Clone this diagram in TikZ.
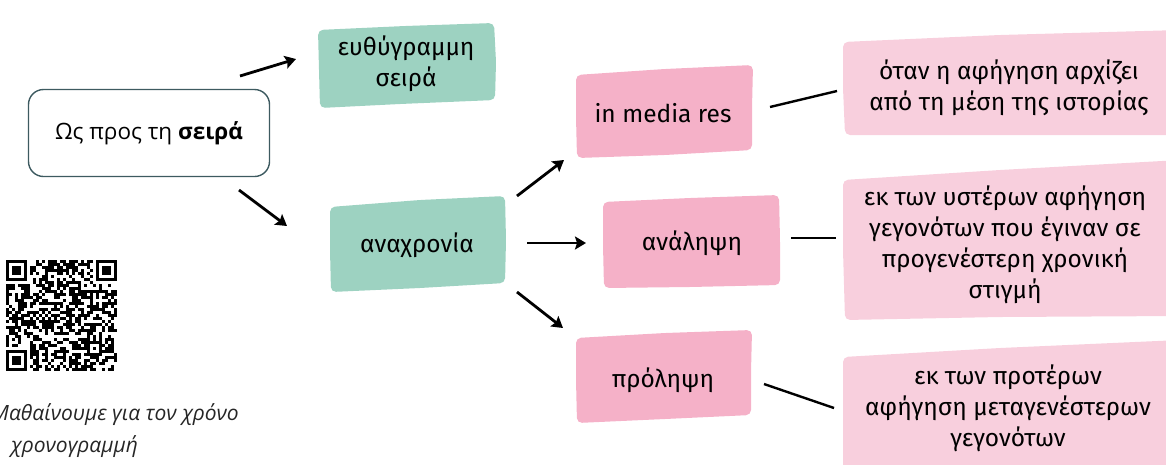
\documentclass[tikz,border=0pt]{standalone}
\usepackage{fontspec}
\setmainfont{Fira Sans}
\newfontfamily\startfont{Open Sans}
\usetikzlibrary{arrows.meta,calc}
\definecolor{grn}{HTML}{9DD2C1}
\definecolor{pnk}{HTML}{F5B1C8}
\definecolor{lpk}{HTML}{F8CFDD}
\definecolor{slate}{HTML}{3D5A60}
\begin{document}
\begin{tikzpicture}[x=1pt,y=-1pt,
  boxtxt/.style={align=center,font=\fontsize{24.5}{31}\selectfont,inner sep=0pt,text=black},
  captxt/.style={inner sep=0pt,font=\startfont\itshape\fontsize{21}{24}\selectfont,text=black!85},
  arr/.style={line width=2.8pt,-{Stealth[length=11pt,width=13pt,inset=2pt]}},
  link/.style={line width=2.4pt},
  blob/.style={rounded corners=5pt}]
\useasboundingbox (0,0) rectangle (1166,464);
\clip (0,0) rectangle (1166,464);

% ---- coloured brush boxes ----
\fill[grn,blob] (318,30) -- (405,26) -- (494,23) -- (496,62) -- (495,100) -- (400,104) -- (320,108) -- (319,70) -- cycle;
\fill[grn,blob] (330,207) -- (420,200) -- (505,196) -- (506,240) -- (505,283) -- (420,288) -- (331,292) -- (330,250) -- cycle;
\fill[pnk,blob] (576,75) -- (665,69) -- (753,65) -- (752,108) -- (752,150) -- (665,155) -- (577,158) -- (576,117) -- cycle;
\fill[pnk,blob] (603,202) -- (690,198) -- (779,195) -- (780,240) -- (780,285) -- (690,287) -- (604,288) -- (603,245) -- cycle;
\fill[pnk,blob] (576,338) -- (665,333) -- (752,330) -- (751,372) -- (751,415) -- (665,419) -- (577,423) -- (576,380) -- cycle;
\fill[lpk,blob] (843,42) -- (1000,35) -- (1180,30) -- (1180,135) -- (1000,135) -- (845,135) -- (843,88) -- cycle;
\fill[lpk,blob] (843,180) -- (1000,170) -- (1180,160) -- (1180,316) -- (1000,317) -- (845,320) -- (843,250) -- cycle;
\fill[lpk,blob] (843,357) -- (1000,348) -- (1180,340) -- (1180,470) -- (843,470) -- (843,410) -- cycle;

% ---- nodes ----
\node[draw=slate,line width=1.4pt,rounded corners=15pt,minimum width=241pt,minimum height=87pt,
      font=\startfont\fontsize{22.5}{26}\selectfont,inner sep=0pt] (start) at (149,133) {Ως προς τη \textbf{σειρά}};
\node[boxtxt] (lin) at (406,64) {ευθύγραμμη\\σειρά};
\node[boxtxt] (anach) at (417,245) {αναχρονία};
\node[boxtxt] (imr) at (663,113) {in media res};
\node[boxtxt] (anal) at (692,243) {ανάληψη};
\node[boxtxt] (prol) at (663,380) {πρόληψη};
\node[boxtxt] (d1) at (1009,88) {όταν η αφήγηση αρχίζει\\από τη μέση της ιστορίας};
\node[boxtxt] (d2) at (1005,245) {εκ των υστέρων αφήγηση\\γεγονότων που έγιναν σε\\προγενέστερη χρονική\\στιγμή};
\node[boxtxt] (d3) at (1008,408) {εκ των προτέρων\\αφήγηση μεταγενέστερων\\γεγονότων};

\node[captxt,anchor=east] (cap1) at (239,415) {Μαθαίνουμε για τον χρόνο};
\node[captxt,anchor=west] (cap2) at (11,447) {χρονογραμμή};

% ---- connector end points ----
\coordinate (s1) at (240,76);  \coordinate (e1) at (296,59);
\coordinate (s2) at (239,190); \coordinate (e2) at (287,226);
\coordinate (s3) at (517,196); \coordinate (e3) at (564,160);
\coordinate (s4) at (527,243); \coordinate (e4) at (586,243);
\coordinate (s5) at (517,292); \coordinate (e5) at (563,328);
\coordinate (t1) at (770,107); \coordinate (u1) at (837,91);
\coordinate (t2) at (791,238); \coordinate (u2) at (836,238);
\coordinate (t3) at (764,384); \coordinate (u3) at (834,408);

\draw[arr] (s1) -- (e1);
\draw[arr] (s2) -- (e2);
\draw[arr] (s3) -- (e3);
\draw[arr] (s4) -- (e4);
\draw[arr] (s5) -- (e5);
\draw[link] (t1) -- (u1);
\draw[link] (t2) -- (u2);
\draw[link] (t3) -- (u3);

% ---- QR-like code ----
\begin{scope}[shift={(6,260)}]
\pgfmathsetseed{4242}
\foreach \i in {0,...,36}{
  \foreach \j in {0,...,36}{
    \pgfmathtruncatemacro\r{rnd<0.52?1:0}
    \pgfmathtruncatemacro\skipit{((\i<8)&&(\j<8))||((\i>28)&&(\j<8))||((\i<8)&&(\j>28))||((\i>26)&&(\i<32)&&(\j>26)&&(\j<32))?1:0}
    \ifnum\skipit=0 \ifnum\r=1 \fill[black] (\i*3,\j*3) rectangle ++(3.05,3.05); \fi\fi
  }
}
\foreach \px/\py in {0/0,90/0,0/90}{
  \fill[black] (\px,\py) rectangle ++(21,21);
  \fill[white] (\px+3,\py+3) rectangle ++(15,15);
  \fill[black] (\px+6,\py+6) rectangle ++(9,9);
}
\fill[black] (81,81) rectangle ++(15,15);
\fill[white] (84,84) rectangle ++(9,9);
\fill[black] (87,87) rectangle ++(3,3);
\end{scope}
\end{tikzpicture}
\end{document}
